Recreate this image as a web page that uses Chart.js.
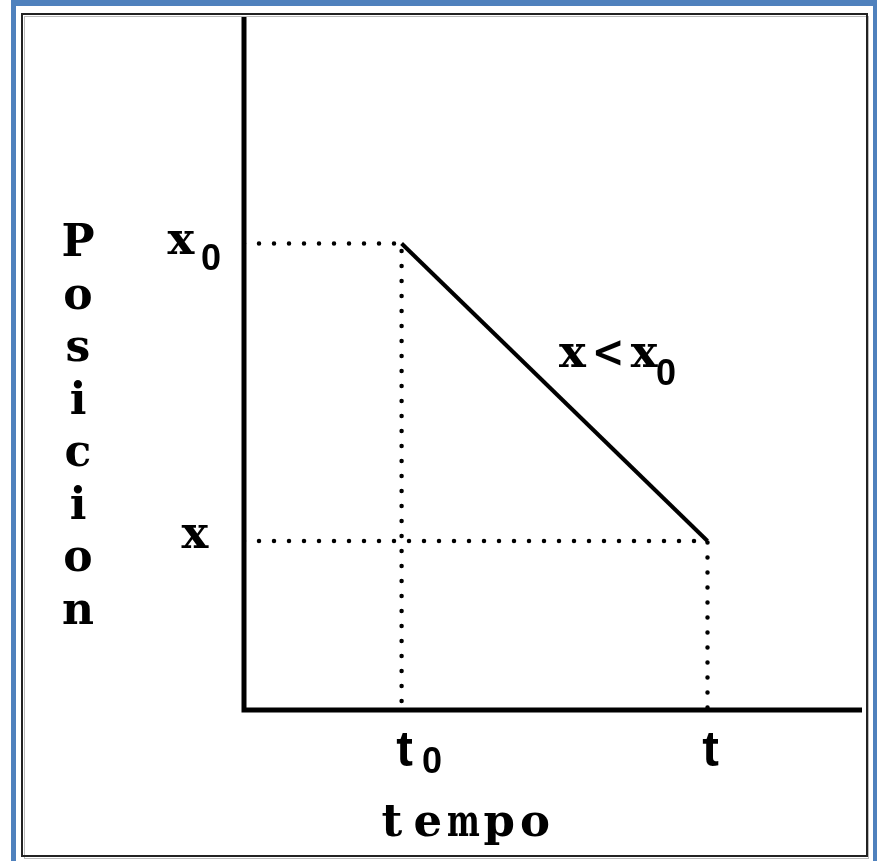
<!DOCTYPE html>
<html><head><meta charset="utf-8">
<script src="https://cdn.jsdelivr.net/npm/chart.js@4"></script>
<style>html,body{margin:0;padding:0;background:#fff}#wrap{width:877px;height:861px;position:relative}canvas{display:block}</style>
</head><body><div id="wrap"><canvas id="c" width="877" height="861"></canvas></div>
<script>
// ---- data ----
const timeValues = [1.02, 3];          // t0, t
const timeLabels = [['t', '0'], ['t', '']];
const positionValues = [2.76, 1];      // x0, x
const positionLabels = [['x', '0'], ['x', '']];
const lineLabel = ['x<x', '0'];
const xAxisTitle = 'tempo';
const yAxisTitle = 'Posicion';
const xMax = 4, yMax = 4.1;

const SERIF = 'bold 45px "DejaVu Serif", "Liberation Serif", serif';
const LT = 'bold 44px "DejaVu Serif", "Liberation Serif", serif';
const SANS = 'bold 50px "Liberation Sans", Arial, sans-serif';
const SUB = 'bold 36px "Liberation Sans", Arial, sans-serif';
const ADV = 35.8;

const mainLine = [{x: timeValues[0], y: positionValues[0]}, {x: timeValues[1], y: positionValues[1]}];
const guide0 = [{x: 0, y: positionValues[0]}, {x: timeValues[0], y: positionValues[0]}, {x: timeValues[0], y: 0}];
const guide1 = [{x: 0, y: positionValues[1]}, {x: timeValues[1], y: positionValues[1]}, {x: timeValues[1], y: 0}];

const dotted = {borderColor: '#000', borderWidth: 4.5, borderDash: [0, 15], borderCapStyle: 'round', pointRadius: 0, fill: false, tension: 0};

// draw text as fixed-pitch cells (typewriter look); wide glyphs are narrowed to fit the cell
function drawMono(ctx, text, left, baseline) {
  const maxW = ADV - 3;
  [...text].forEach((ch, i) => {
    const cx = left + ADV * (i + 0.5);
    const w = ctx.measureText(ch).width;
    ctx.save();
    ctx.translate(cx, baseline);
    if (w > maxW) ctx.scale(maxW / w, 1);
    ctx.textAlign = 'center';
    ctx.fillText(ch, 0, 0);
    ctx.restore();
  });
  return ADV * text.length;
}

const decor = {
  id: 'decor',
  beforeDraw(chart) {
    const ctx = chart.ctx;
    ctx.save();
    ctx.fillStyle = '#fff';
    ctx.fillRect(0, 0, chart.width, chart.height);
    ctx.fillStyle = '#4f81bd';
    ctx.fillRect(11, 0, 866, 6);
    ctx.fillRect(11, 0, 5, 861);
    ctx.fillRect(873, 0, 4, 861);
    ctx.strokeStyle = '#bbb';
    ctx.lineWidth = 1;
    ctx.strokeRect(24.5, 16.5, 844, 842);
    ctx.strokeStyle = '#222';
    ctx.lineWidth = 2;
    ctx.strokeRect(22, 14, 845, 842);
    ctx.restore();
  },
  beforeDatasetsDraw(chart) {
    const ctx = chart.ctx, xs = chart.scales.x, ys = chart.scales.y;
    const x0 = xs.getPixelForValue(0), y0 = ys.getPixelForValue(0);
    ctx.save();
    ctx.strokeStyle = '#000';
    ctx.lineWidth = 5;
    ctx.lineCap = 'butt';
    ctx.beginPath();
    ctx.moveTo(x0, ys.getPixelForValue(yMax));
    ctx.lineTo(x0, y0 + 2.5);
    ctx.moveTo(x0 - 2.5, y0);
    ctx.lineTo(xs.getPixelForValue(xMax), y0);
    ctx.stroke();
    ctx.restore();
  },
  afterDraw(chart) {
    const ctx = chart.ctx, xs = chart.scales.x, ys = chart.scales.y;
    const ax = xs.getPixelForValue(0);
    ctx.save();
    ctx.fillStyle = '#000';
    ctx.textBaseline = 'alphabetic';
    // position labels
    positionValues.forEach((v, i) => {
      const py = ys.getPixelForValue(v);
      const [m, s] = positionLabels[i];
      ctx.font = SERIF;
      if (s) {
        drawMono(ctx, m, ax - 81, py + 11);
        ctx.font = SUB; ctx.textAlign = 'left';
        ctx.fillText(s, ax - 43, py + 27);
      } else {
        drawMono(ctx, m, ax - 67, py + 7);
      }
    });
    // time labels
    timeValues.forEach((v, i) => {
      const px = xs.getPixelForValue(v);
      const [m, s] = timeLabels[i];
      ctx.font = SANS; const wm = ctx.measureText(m).width;
      const left = px + 3 - wm / 2;
      ctx.textAlign = 'left';
      ctx.fillText(m, left, 766);
      if (s) { ctx.font = SUB; ctx.fillText(s, left + wm + 9, 773); }
    });
    // line label
    const mx = (xs.getPixelForValue(timeValues[0]) + xs.getPixelForValue(timeValues[1])) / 2;
    const my = (ys.getPixelForValue(positionValues[0]) + ys.getPixelForValue(positionValues[1])) / 2;
    ctx.font = SERIF;
    const lw = drawMono(ctx, lineLabel[0], mx, my - 25);
    ctx.font = SUB; ctx.textAlign = 'left';
    ctx.fillText(lineLabel[1], mx + lw - 6, my - 7);
    // axis titles
    ctx.font = SERIF;
    drawMono(ctx, xAxisTitle, 374, 836);
    ctx.font = LT; ctx.textAlign = 'center';
    [...yAxisTitle].forEach((ch, i) => ctx.fillText(ch, 78, 256 + i * 52.5));
    ctx.restore();
  }
};

new Chart(document.getElementById('c'), {
  type: 'line',
  data: {
    datasets: [
      Object.assign({data: guide0}, dotted),
      Object.assign({data: guide1}, dotted),
      {data: mainLine, borderColor: '#000', borderWidth: 4, pointRadius: 0, fill: false, tension: 0}
    ]
  },
  options: {
    responsive: false, devicePixelRatio: 1, animation: false,
    layout: {padding: {left: 244, right: 15, top: 17, bottom: 151}},
    plugins: {legend: {display: false}, tooltip: {enabled: false}},
    scales: {
      x: {type: 'linear', min: 0, max: xMax, display: false},
      y: {type: 'linear', min: 0, max: yMax, display: false}
    }
  },
  plugins: [decor]
});
</script>
</body></html>
